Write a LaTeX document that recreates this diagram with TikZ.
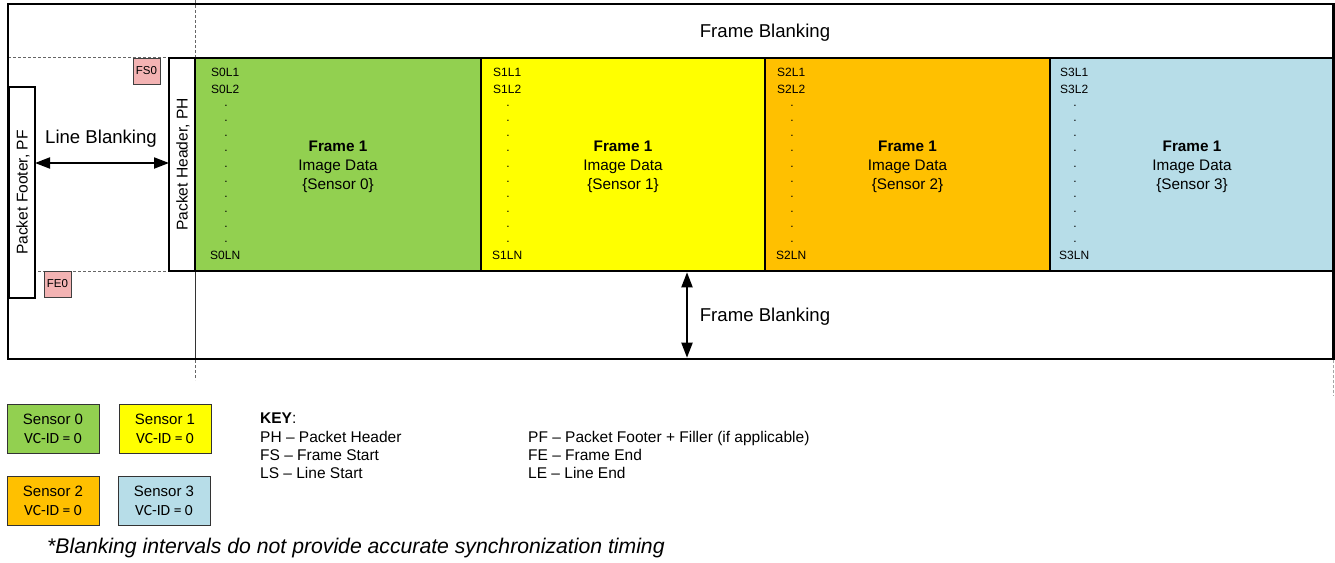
\documentclass[tikz,border=0pt]{standalone}
\usepackage{fontspec}
\setmainfont{Liberation Sans}
\newfontfamily\calfont{Carlito}
\usetikzlibrary{arrows.meta}
\definecolor{sgreen}{HTML}{92D050}
\definecolor{syellow}{HTML}{FFFF00}
\definecolor{sorange}{HTML}{FFC000}
\definecolor{sblue}{HTML}{B7DDE8}
\definecolor{spink}{HTML}{F3B3B3}
\newcommand\myfbig{\fontsize{18.6}{22}\selectfont}
\newcommand\myfmid{\fontsize{15.3}{19}\selectfont}
\newcommand\myfkey{\fontsize{15.5}{18.3}\selectfont}
\newcommand\myfrot{\fontsize{15.6}{18}\selectfont}
\newcommand\myfline{\fontsize{12}{14}\selectfont}
\newcommand\myfmark{\fontsize{11.5}{13}\selectfont}
\newcommand\myfleg{\fontsize{15}{19}\selectfont}
\newcommand\myfnote{\fontsize{21.2}{25}\selectfont}
\begin{document}
\begin{tikzpicture}[x=1pt,y=-1pt,
  framebox/.style={draw=black, line width=2.6pt, anchor=north west, inner sep=0pt, outer sep=0pt,
    minimum height=213pt},
  frametxt/.style={align=center, inner sep=0pt, font=\myfmid},
  thinbox/.style={draw=black, fill=white, line width=1.4pt, anchor=north west, inner sep=0pt, outer sep=0pt},
  outerbox/.style={draw=black, line width=2.6pt, anchor=north west, inner sep=0pt, outer sep=0pt},
  marker/.style={draw=black!75, fill=spink, line width=1pt, anchor=north west, inner sep=0pt, outer sep=0pt,
    minimum width=27pt, minimum height=26pt, font=\myfmark},
  linelab/.style={anchor=west, inner sep=0pt, font=\myfline},
  dotlab/.style={inner sep=0pt, font=\myfline},
  dashln/.style={draw=black!60, line width=0.8pt, dash pattern=on 3pt off 2pt},
  dbl/.style={line width=2pt, {Triangle[length=15pt,width=11pt]}-{Triangle[length=15pt,width=11pt]}},
  bigtxt/.style={inner sep=0pt, font=\myfbig},
  legbox/.style={draw=black!80, line width=0.9pt, minimum width=92pt, minimum height=49pt,
    align=center, inner sep=0pt, font=\myfleg},
  keytxt/.style={anchor=base west, inner sep=0pt, font=\myfkey}
]
\useasboundingbox (0,0) rectangle (1335,562);

% frames
\node[framebox, fill=sgreen,  minimum width=286pt] (S0) at (195,58) {};
\node[framebox, fill=syellow, minimum width=284pt] (S1) at (481,58) {};
\node[framebox, fill=sorange, minimum width=285pt] (S2) at (765,58) {};
\node[framebox, fill=sblue,   minimum width=284pt] (S3) at (1050,58) {};
\foreach \i in {0,1,2,3}{
  \node[frametxt] (S\i txt) at ([yshift=-2pt]S\i.center) {\textbf{Frame 1}\\Image Data\\\{Sensor \i\}};
}

% line labels
\foreach \i/\lx in {0/211,1/493,2/777,3/1060}{
  \node[linelab] (s\i l1) at (\lx,72) {S\i L1};
  \node[linelab] (s\i l2) at (\lx,89) {S\i L2};
  \foreach \k in {0,...,9}{
    \node[dotlab] (s\i d\k) at ({\lx+15},{106+15.1*\k}) {.};
  }
  \node[linelab] (s\i ln) at ({\lx-1},255) {S\i LN};
}

% dashed guide lines
\draw[dashln] (8,57.5) -- (195,57.5);
\draw[dashln] (8,271) -- (195,271);
\draw[dashln] (195,0) -- (195,57);
\draw[draw=black!80, line width=0.9pt] (195,271) -- (195,359);
\draw[dashln] (195,360) -- (195,380);
\draw[dashln, draw=black!35] (1333,360) -- (1333,396);

% packet header / footer
\node[thinbox, minimum width=26pt, minimum height=213pt] (PH) at (169,58) {};
\node[thinbox, minimum width=26pt, minimum height=211pt] (PF) at (9,87) {};
\node[rotate=90, inner sep=0pt, font=\myfrot] (PHtext) at ([xshift=1pt]PH.center) {Packet Header, PH};
\node[rotate=90, inner sep=0pt, font=\myfrot] (PFtext) at ([xshift=1pt]PF.center) {Packet Footer, PF};

% outer box
\node[outerbox, minimum width=1325.5pt, minimum height=355pt] (outer) at (8,4) {};

% markers
\node[marker] (FS0) at (133,58) {FS0};
\node[marker] (FE0) at (44,271) {FE0};

% blanking labels and arrows
\node[bigtxt] (fbtop) at (765,33) {Frame Blanking};
\node[bigtxt] (fbbot) at (765,317) {Frame Blanking};
\node[bigtxt] (lbtxt) at (101,139) {Line Blanking};
\coordinate (LBy) at (0,163);
\coordinate (FBx) at (687,0);
\draw[dbl] (PF.east |- LBy) -- (PH.west |- LBy);
\draw[dbl] ([yshift=-1.3pt]S1.south -| FBx) -- ([yshift=1.3pt]outer.south -| FBx);

% legend
\node[legbox, fill=sgreen]  (L0) at (53,428.5)  {Sensor 0\\{\calfont\fontsize{15.5}{19}\selectfont VC-ID = 0}};
\node[legbox, fill=syellow] (L1) at (165,428.5) {Sensor 1\\{\calfont\fontsize{15.5}{19}\selectfont VC-ID = 0}};
\node[legbox, fill=sorange] (L2) at (53,500.5)  {Sensor 2\\{\calfont\fontsize{15.5}{19}\selectfont VC-ID = 0}};
\node[legbox, fill=sblue]   (L3) at (164,500.5) {Sensor 3\\{\calfont\fontsize{15.5}{19}\selectfont VC-ID = 0}};

% key
\node[keytxt] (key) at (260,423.5) {\textbf{KEY}:};
\node[keytxt] (kph) at (260,442) {PH – Packet Header};
\node[keytxt] (kfs) at (260,460.3) {FS – Frame Start};
\node[keytxt] (kls) at (260,478.6) {LS – Line Start};
\node[keytxt] (kpf) at (528,442) {PF – Packet Footer + Filler (if applicable)};
\node[keytxt] (kfe) at (528,460.3) {FE – Frame End};
\node[keytxt] (kle) at (528,478.6) {LE – Line End};

% footnote
\node[anchor=base west, inner sep=0pt, font=\myfnote\itshape] (note) at (47,553)
  {*Blanking intervals do not provide accurate synchronization timing};
\end{tikzpicture}
\end{document}
